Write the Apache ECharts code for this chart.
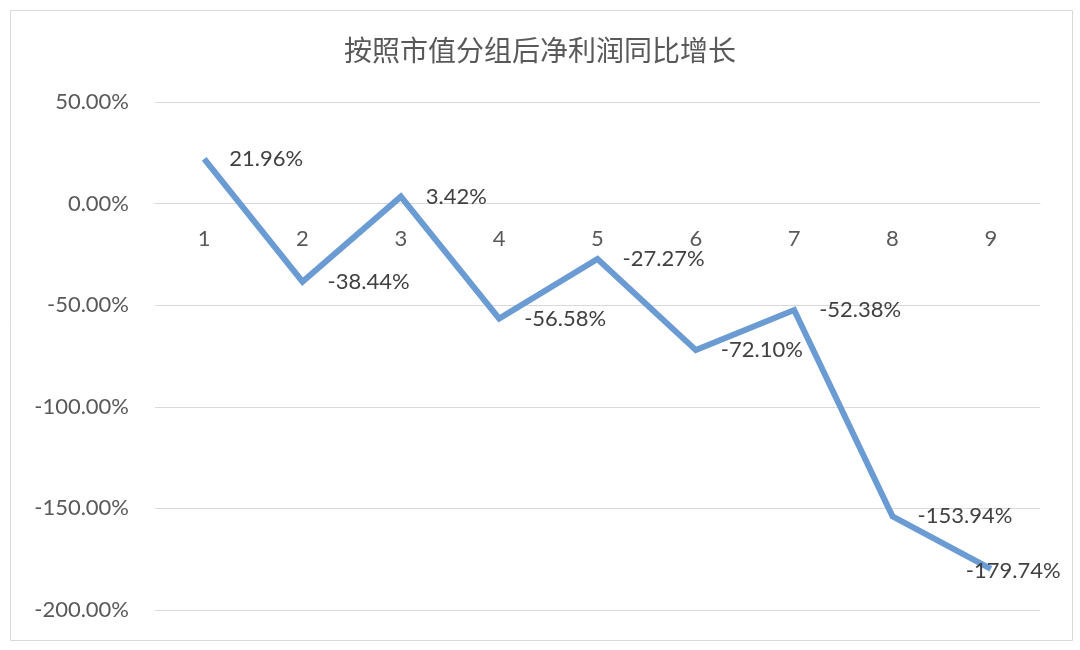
<!DOCTYPE html>
<html><head><meta charset="utf-8">
<script src="https://cdn.jsdelivr.net/npm/echarts@6/dist/echarts.min.js"></script>
<style>html,body{margin:0;padding:0;background:#fff}#c{width:1080px;height:650px}</style>
</head><body><div id="c"></div>
<script>
const titleText = '按照市值分组后净利润同比增长';
const categories = ['1','2','3','4','5','6','7','8','9'];
const values = [21.96, -38.44, 3.42, -56.58, -27.27, -72.10, -52.38, -153.94, -179.74];
const yTicks = { min: -200, max: 50, interval: 50 };

const gridTop = 102, gridBottom = 40, chartH = 650;
const plotH = chartH - gridTop - gridBottom;
const zeroOffset = -plotH * (0 - yTicks.min) / (yTicks.max - yTicks.min);

const chart = echarts.init(document.getElementById('c'));
const numFont = 'Lato, "Noto Sans", sans-serif';
chart.setOption({
  animation: false,
  backgroundColor: '#fff',
  graphic: [{ type: 'rect', shape: { x: 10.5, y: 10.5, width: 1062, height: 630 }, style: { fill: 'none', stroke: '#d9d9d9', lineWidth: 1 }, silent: true }],
  title: { text: titleText, left: 'center', top: 31, textStyle: { fontFamily: '"Noto Sans CJK SC", sans-serif', fontSize: 28, fontWeight: 'normal', color: '#595959' } },
  grid: { left: 155, right: 40, top: gridTop, bottom: gridBottom, containLabel: false },
  xAxis: {
    type: 'category', data: categories, boundaryGap: true,
    offset: zeroOffset,
    axisLine: { onZero: false, lineStyle: { color: '#d9d9d9', width: 1 } },
    axisTick: { show: false },
    axisLabel: { margin: 24, fontSize: 22, color: '#595959', fontFamily: numFont }
  },
  yAxis: {
    type: 'value', min: yTicks.min, max: yTicks.max, interval: yTicks.interval,
    axisLine: { show: false }, axisTick: { show: false },
    splitLine: { lineStyle: { color: '#d9d9d9', width: 1 } },
    axisLabel: { margin: 26, fontSize: 22, color: '#595959', fontFamily: numFont, formatter: v => v.toFixed(2) + '%' }
  },
  series: [{
    type: 'line', z: 3,
    data: values.map((v, i) => i === values.length - 1 ? { value: v, label: { position: 'right', offset: [-50, 2] } } : v),
    symbol: 'circle', symbolSize: 2, showSymbol: true, showAllSymbol: true,
    lineStyle: { color: '#6a9bd3', width: 6, join: 'miter' },
    itemStyle: { color: 'rgba(106,155,211,0)' },
    label: { show: true, position: 'right', distance: 24, fontSize: 22, color: '#404040', fontFamily: numFont, formatter: p => p.value.toFixed(2) + '%' }
  }]
});
</script></body></html>
